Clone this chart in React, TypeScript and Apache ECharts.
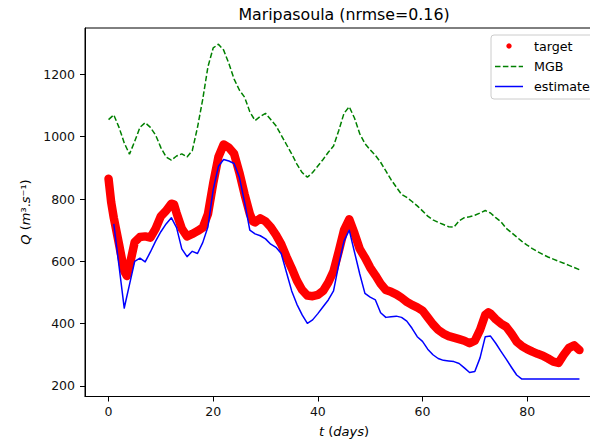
import React, { useEffect, useRef } from "react";
import * as echarts from "echarts";

// Tick positions
const xTicks = [0, 20, 40, 60, 80];
const yTicks = [200, 400, 600, 800, 1000, 1200];

// Observed discharge (target), sampled at these days
const targetDays = [
  0, 0.5, 1, 2, 3, 3.5, 4, 5, 6, 7, 8, 9, 10, 11, 12, 12.5, 13, 14, 15, 16, 17, 18, 19, 20,
  21, 22, 23, 24, 25, 26, 27, 27.6, 28, 29, 30, 31, 32, 33, 34, 35, 36, 37, 38, 39, 40, 41,
  42, 43, 44, 45, 46, 47, 48, 49, 50, 51, 52, 53, 54, 55, 56, 57, 58, 59, 60, 61, 62, 63,
  64, 65, 66, 67, 68, 69, 70, 71, 72, 72.6, 73, 74, 75, 76, 77, 78, 79, 80, 81, 82, 83, 84,
  85, 86, 87, 88, 89, 90,
];
const targetFlow = [
  865, 790, 740, 655, 568, 553, 585, 662, 678, 680, 676, 705, 745, 762, 785, 783, 755, 705,
  680, 688, 697, 708, 752, 850, 935, 975, 965, 945, 885, 815, 752, 728, 725, 738, 728, 710,
  685, 655, 615, 578, 538, 508, 490, 488, 492, 505, 532, 568, 632, 700, 735, 690, 640, 612,
  580, 555, 528, 508, 502, 494, 483, 470, 460, 452, 442, 420, 398, 380, 368, 360, 355, 350,
  345, 337, 345, 380, 428, 436, 432, 414, 400, 390, 368, 342, 328, 318, 310, 303, 297, 288,
  278, 274, 300, 322, 330, 315,
];

// MGB model discharge, one value per day from day 0 to day 90
const mgbFlow = [
  1055, 1070, 1030, 980, 944, 985, 1030, 1045, 1030, 1005, 965, 935, 925, 938, 945, 935, 955,
  1030, 1120, 1225, 1285, 1297, 1278, 1235, 1185, 1150, 1127, 1080, 1052, 1065, 1075, 1055,
  1035, 1005, 975, 945, 912, 885, 870, 885, 906, 927, 950, 970, 1020, 1075, 1096, 1060, 1010,
  978, 958, 940, 918, 890, 862, 838, 815, 805, 792, 778, 762, 745, 733, 725, 718, 711, 710,
  730, 740, 743, 748, 755, 763, 755, 740, 727, 706, 692, 678, 664, 652, 641, 631, 622, 614,
  607, 600, 594, 587, 580, 573,
];

// Estimated discharge, one value per day starting at day 1
const estimateStartDay = 1;
const estimateFlow = [
  720, 585, 450, 525, 600, 610, 598, 630, 665, 695, 720, 740, 708, 640, 615, 632, 625, 660,
  711, 830, 905, 927, 922, 914, 870, 790, 700, 688, 682, 672, 655, 645, 625, 565, 505, 462,
  428, 401, 412, 432, 454, 476, 505, 590, 665, 700, 630, 560, 497, 485, 476, 435, 420, 422,
  424, 420, 408, 385, 358, 343, 318, 300, 288, 282, 280, 278, 272, 258, 243, 246, 290, 358,
  360, 337, 311, 286, 260, 235, 222, 222, 222, 222, 222, 222, 222, 222, 222, 222, 222, 222,
];

const FONT = "DejaVu Sans";

export default function App() {
  const ref = useRef<HTMLDivElement>(null);

  useEffect(() => {
    if (!ref.current) return;
    const chart = echarts.init(ref.current, null, { renderer: "svg" });

    const targetData = targetDays.map((d, i) => [d, targetFlow[i]]);
    const mgbData = mgbFlow.map((v, i) => [i, v]);
    const estimateData = estimateFlow.map((v, i) => [i + estimateStartDay, v]);

    const axisText = {
      color: "#111",
      fontSize: 12.5,
      fontFamily: FONT,
      formatter: (v: number) => String(v),
    };

    chart.setOption({
      animation: false,
      backgroundColor: "#ffffff",
      grid: {
        left: 85,
        top: 28,
        width: 518,
        height: 368.5,
        show: true,
        borderColor: "#000",
        borderWidth: 1,
        backgroundColor: "transparent",
      },
      xAxis: {
        type: "value",
        min: -4.5,
        max: 94.5,
        splitLine: { show: false },
        axisLine: { show: true, onZero: false, lineStyle: { color: "#000", width: 1 } },
        axisTick: { show: true, customValues: xTicks, length: 5, lineStyle: { color: "#000" } },
        axisLabel: { customValues: xTicks, margin: 8, ...axisText },
      },
      yAxis: {
        type: "value",
        min: 166,
        max: 1349,
        splitLine: { show: false },
        axisLine: { show: true, onZero: false, lineStyle: { color: "#000", width: 1 } },
        axisTick: { show: true, customValues: yTicks, length: 5, lineStyle: { color: "#000" } },
        axisLabel: { customValues: yTicks, margin: 10, ...axisText },
      },
      series: [
        {
          name: "target",
          type: "line",
          data: targetData,
          symbol: "none",
          showSymbol: false,
          silent: true,
          z: 2,
          itemStyle: { color: "#ff0000" },
          lineStyle: { color: "#ff0000", width: 8.5, cap: "round", join: "round" },
        },
        {
          name: "MGB",
          type: "line",
          data: mgbData,
          symbol: "none",
          showSymbol: false,
          silent: true,
          z: 3,
          itemStyle: { color: "#008000" },
          lineStyle: { color: "#008000", width: 1.5, type: [5.5, 2.4] },
        },
        {
          name: "estimate",
          type: "line",
          data: estimateData,
          symbol: "none",
          showSymbol: false,
          silent: true,
          z: 4,
          itemStyle: { color: "#0000ff" },
          lineStyle: { color: "#0000ff", width: 1.5, join: "round" },
        },
      ],
      graphic: [
        {
          type: "text",
          x: 344,
          y: 14.5,
          style: {
            text: "Maripasoula (nrmse=0.16)",
            font: `15.8px "${FONT}"`,
            fill: "#000",
            textAlign: "center",
            textVerticalAlign: "middle",
          },
        },
        {
          type: "text",
          x: 344,
          y: 431,
          style: {
            text: "{i|t} ({i|days})",
            fontFamily: FONT,
            fontSize: 13,
            fill: "#000",
            textAlign: "center",
            textVerticalAlign: "middle",
            rich: { i: { fontStyle: "italic", fontFamily: FONT, fontSize: 13 } },
          },
        },
        {
          type: "text",
          x: 25,
          y: 212,
          rotation: Math.PI / 2,
          style: {
            text: "{i|Q} ({i|m}³.{i|s}⁻¹)",
            fontFamily: FONT,
            fontSize: 13,
            fill: "#000",
            textAlign: "center",
            textVerticalAlign: "middle",
            rich: { i: { fontStyle: "italic", fontFamily: FONT, fontSize: 13 } },
          },
        },
        {
          type: "group",
          z: 100,
          children: [
            {
              type: "rect",
              shape: { x: 491, y: 35, width: 106, height: 64, r: 3 },
              style: { fill: "rgba(255,255,255,0.8)", stroke: "#cccccc", lineWidth: 1 },
            },
            {
              type: "circle",
              shape: { cx: 509, cy: 46, r: 2.7 },
              style: { fill: "#ff0000" },
            },
            {
              type: "text",
              x: 534,
              y: 46,
              style: { text: "target", font: `12.7px "${FONT}"`, fill: "#000", textVerticalAlign: "middle" },
            },
            {
              type: "line",
              shape: { x1: 495, y1: 66.5, x2: 523, y2: 66.5 },
              style: { stroke: "#008000", lineWidth: 1.5, lineDash: [5.5, 2.4] },
            },
            {
              type: "text",
              x: 534,
              y: 66.5,
              style: { text: "MGB", font: `12.7px "${FONT}"`, fill: "#000", textVerticalAlign: "middle" },
            },
            {
              type: "line",
              shape: { x1: 495, y1: 86.5, x2: 523, y2: 86.5 },
              style: { stroke: "#0000ff", lineWidth: 1.5 },
            },
            {
              type: "text",
              x: 534,
              y: 86.5,
              style: { text: "estimate", font: `12.7px "${FONT}"`, fill: "#000", textVerticalAlign: "middle" },
            },
          ],
        },
      ],
    });

    return () => chart.dispose();
  }, []);

  return (
    <div
      style={{
        position: "fixed",
        left: 0,
        top: 0,
        width: 590,
        height: 443,
        overflow: "hidden",
        background: "#fff",
      }}
    >
      <div ref={ref} style={{ width: 620, height: 443 }} />
    </div>
  );
}
